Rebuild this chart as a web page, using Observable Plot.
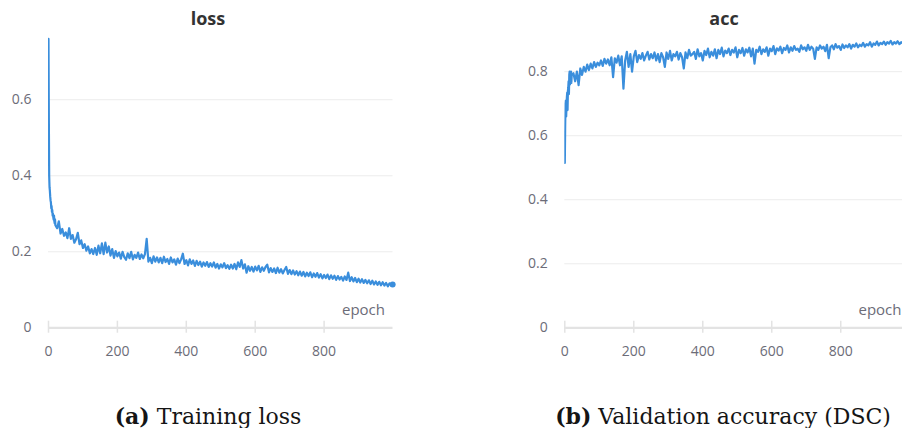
<!DOCTYPE html>
<html><head><meta charset="utf-8">
<script src="https://cdn.jsdelivr.net/npm/d3@7"></script>
<script src="https://cdn.jsdelivr.net/npm/@observablehq/plot@0.6"></script>
<style>
body{margin:0;background:#fff;width:902px;height:428px;overflow:hidden;position:relative;font-family:"Open Sans",sans-serif}
.panel{position:absolute;top:0}
.title{position:absolute;top:9px;font-weight:700;font-size:18px;line-height:18px;color:#333;transform:translateX(-50%);white-space:nowrap}
.cap{position:absolute;top:405px;font-family:"DejaVu Serif",serif;font-size:22px;line-height:22px;color:#151515;transform:translateX(-50%);white-space:nowrap}
</style></head><body>
<div class="title" style="left:208px">loss</div>
<div class="title" style="left:724px">acc</div>
<div id="left" class="panel" style="left:0"></div>
<div id="right" class="panel" style="left:451px"></div>
<div class="cap" style="left:208px"><b>(a)</b> Training loss</div>
<div class="cap" style="left:723px"><b>(b)</b> Validation accuracy (DSC)</div>
<script>
// ---- data ----
const titles = ["loss", "acc"];
const xLabel = "epoch";
const xTicks = [0, 200, 400, 600, 800];
const lossTicks = [0, 0.2, 0.4, 0.6];
const accTicks = [0, 0.2, 0.4, 0.6, 0.8];

// training loss, epochs 0..20 (one per epoch)
const lossHead = [0.76, 0.55, 0.40, 0.37, 0.36, 0.345, 0.335, 0.33, 0.315, 0.32, 0.305, 0.31, 0.295, 0.30, 0.29, 0.285, 0.295, 0.28, 0.275, 0.285, 0.27];
// training loss, epochs 25..995 every 5 epochs
const lossBody = [
  0.262, 0.280, 0.248, 0.260, 0.242, 0.251, 0.236, 0.262, 0.234, 0.244,
  0.224, 0.233, 0.250, 0.220, 0.230, 0.210, 0.220, 0.203, 0.214, 0.196,
  0.207, 0.194, 0.210, 0.192, 0.216, 0.196, 0.222, 0.194, 0.224, 0.198,
  0.214, 0.190, 0.207, 0.184, 0.202, 0.188, 0.198, 0.182, 0.200, 0.186,
  0.179, 0.196, 0.183, 0.200, 0.180, 0.192, 0.184, 0.198, 0.181, 0.193,
  0.183, 0.194, 0.234, 0.174, 0.184, 0.170, 0.188, 0.174, 0.185, 0.172,
  0.184, 0.170, 0.187, 0.173, 0.181, 0.168, 0.185, 0.172, 0.180, 0.166,
  0.182, 0.170, 0.180, 0.195, 0.168, 0.178, 0.164, 0.180, 0.168, 0.177,
  0.163, 0.176, 0.165, 0.174, 0.161, 0.172, 0.163, 0.173, 0.160, 0.170,
  0.161, 0.172, 0.158, 0.168, 0.156, 0.167, 0.159, 0.170, 0.157, 0.165,
  0.155, 0.166, 0.156, 0.168, 0.154, 0.172, 0.160, 0.178, 0.156, 0.167,
  0.145, 0.162, 0.150, 0.160, 0.148, 0.161, 0.151, 0.163, 0.147, 0.159,
  0.150, 0.160, 0.166, 0.146, 0.157, 0.147, 0.156, 0.144, 0.158, 0.145,
  0.154, 0.143, 0.152, 0.160, 0.142, 0.152, 0.141, 0.151, 0.140, 0.149,
  0.138, 0.148, 0.137, 0.147, 0.135, 0.145, 0.136, 0.146, 0.133, 0.143,
  0.134, 0.144, 0.132, 0.141, 0.130, 0.139, 0.131, 0.140, 0.128, 0.138,
  0.129, 0.137, 0.126, 0.136, 0.127, 0.134, 0.124, 0.135, 0.126, 0.145,
  0.123, 0.133, 0.122, 0.131, 0.120, 0.129, 0.119, 0.128, 0.118, 0.126,
  0.117, 0.125, 0.115, 0.124, 0.114, 0.122, 0.113, 0.121, 0.112, 0.120,
  0.111, 0.118, 0.109, 0.117, 0.111
];
const lossLast = 0.114; // epoch 999

// validation accuracy, epochs 0..20
const accHead = [0.515, 0.62, 0.70, 0.71, 0.66, 0.70, 0.72, 0.735, 0.68, 0.74, 0.75, 0.77, 0.73, 0.79, 0.80, 0.76, 0.795, 0.78, 0.80, 0.765, 0.79];
// validation accuracy, epochs 25..980 every 5 epochs
const accBody = [
  0.795, 0.770, 0.800, 0.758, 0.810, 0.790, 0.815, 0.800, 0.822, 0.805,
  0.825, 0.810, 0.830, 0.815, 0.828, 0.820, 0.835, 0.818, 0.840, 0.825,
  0.838, 0.820, 0.845, 0.783, 0.842, 0.828, 0.850, 0.820, 0.848, 0.747,
  0.835, 0.862, 0.815, 0.855, 0.800, 0.848, 0.865, 0.830, 0.852, 0.840,
  0.858, 0.835, 0.850, 0.862, 0.838, 0.855, 0.842, 0.860, 0.835, 0.855,
  0.830, 0.858, 0.845, 0.815, 0.860, 0.840, 0.865, 0.835, 0.855, 0.848,
  0.862, 0.838, 0.858, 0.845, 0.810, 0.860, 0.842, 0.868, 0.850, 0.855,
  0.862, 0.840, 0.870, 0.848, 0.858, 0.835, 0.865, 0.852, 0.872, 0.845,
  0.862, 0.850, 0.870, 0.842, 0.868, 0.855, 0.875, 0.848, 0.866, 0.858,
  0.872, 0.852, 0.868, 0.860, 0.876, 0.845, 0.868, 0.858, 0.874, 0.850,
  0.870, 0.860, 0.875, 0.848, 0.872, 0.825, 0.868, 0.862, 0.878, 0.855,
  0.870, 0.862, 0.876, 0.850, 0.872, 0.864, 0.880, 0.855, 0.873, 0.866,
  0.878, 0.858, 0.874, 0.868, 0.882, 0.860, 0.876, 0.865, 0.880, 0.868,
  0.872, 0.862, 0.882, 0.870, 0.876, 0.865, 0.884, 0.868, 0.878, 0.872,
  0.840, 0.876, 0.868, 0.882, 0.872, 0.878, 0.864, 0.884, 0.842, 0.876,
  0.882, 0.870, 0.886, 0.875, 0.880, 0.868, 0.885, 0.874, 0.882, 0.876,
  0.886, 0.872, 0.884, 0.878, 0.888, 0.876, 0.884, 0.880, 0.890, 0.878,
  0.886, 0.882, 0.892, 0.878, 0.888, 0.884, 0.894, 0.882, 0.890, 0.886,
  0.894, 0.884, 0.892, 0.888, 0.896, 0.885, 0.892, 0.888, 0.895, 0.886,
  0.892, 0.888
];

// ---- build tables ----
function series(head, body, last, lastEpoch) {
  const rows = head.map((v, i) => ({epoch: i, value: v}));
  body.forEach((v, i) => rows.push({epoch: 25 + 5 * i, value: v}));
  if (last != null) rows.push({epoch: lastEpoch, value: last});
  return rows;
}
const lossData = series(lossHead, lossBody, lossLast, 999);
const accData = series(accHead, accBody, null);

const BLUE = "#3a8edc";
const GREY = "#6c6c78";

function panel({data, xDomain, yDomain, yTicks, marginLeft, marginRight, epochDx, endDot}) {
  const H = 370, mT = 35, mB = 42.7;
  const frameH = H - mT - mB;
  const marks = [
    Plot.ruleY(yTicks.filter(d => d > 0), {stroke: "#ececec", strokeWidth: 1}),
    Plot.axisY({ticks: yTicks, tickSize: 0, tickPadding: 17, tickFormat: d => String(d), label: null, fill: GREY, fontSize: 14}),
    Plot.ruleY([0], {stroke: "#e3e3e3", strokeWidth: 2.2}),
    Plot.tickX(xTicks, {x: d => d, stroke: "#e3e3e3", strokeWidth: 1.5, insetTop: frameH - 6.6, insetBottom: -5.4}),
    Plot.axisX({ticks: xTicks, tickSize: 0, tickPadding: 18, label: null, fill: GREY, fontSize: 14}),
    Plot.text([xLabel], {frameAnchor: "bottom-right", text: d => d, textAnchor: "end", dx: epochDx, dy: -13.3, fill: GREY, fontSize: 15}),
    Plot.line(data, {x: "epoch", y: "value", stroke: BLUE, strokeWidth: 2.2, strokeLinejoin: "round", clip: true})
  ];
  if (endDot) marks.push(Plot.dot(data.slice(-1), {x: "epoch", y: "value", r: 3, fill: BLUE, stroke: null}));
  return Plot.plot({
    width: 451, height: H,
    marginTop: mT, marginBottom: mB, marginLeft, marginRight,
    style: {background: "transparent", fontFamily: "'Open Sans', sans-serif", fontSize: "14px", color: GREY, overflow: "visible"},
    x: {domain: xDomain},
    y: {domain: yDomain},
    marks
  });
}

document.getElementById("left").append(panel({
  data: lossData, xDomain: [0, 1000], yDomain: [0, 0.769], yTicks: lossTicks,
  marginLeft: 48, marginRight: 58.5, epochDx: -8, endDot: true
}));
document.getElementById("right").append(panel({
  data: accData, xDomain: [0, 979], yDomain: [0, 0.913], yTicks: accTicks,
  marginLeft: 113.3, marginRight: 0, epochDx: -1, endDot: false
}));
</script>
</body></html>
